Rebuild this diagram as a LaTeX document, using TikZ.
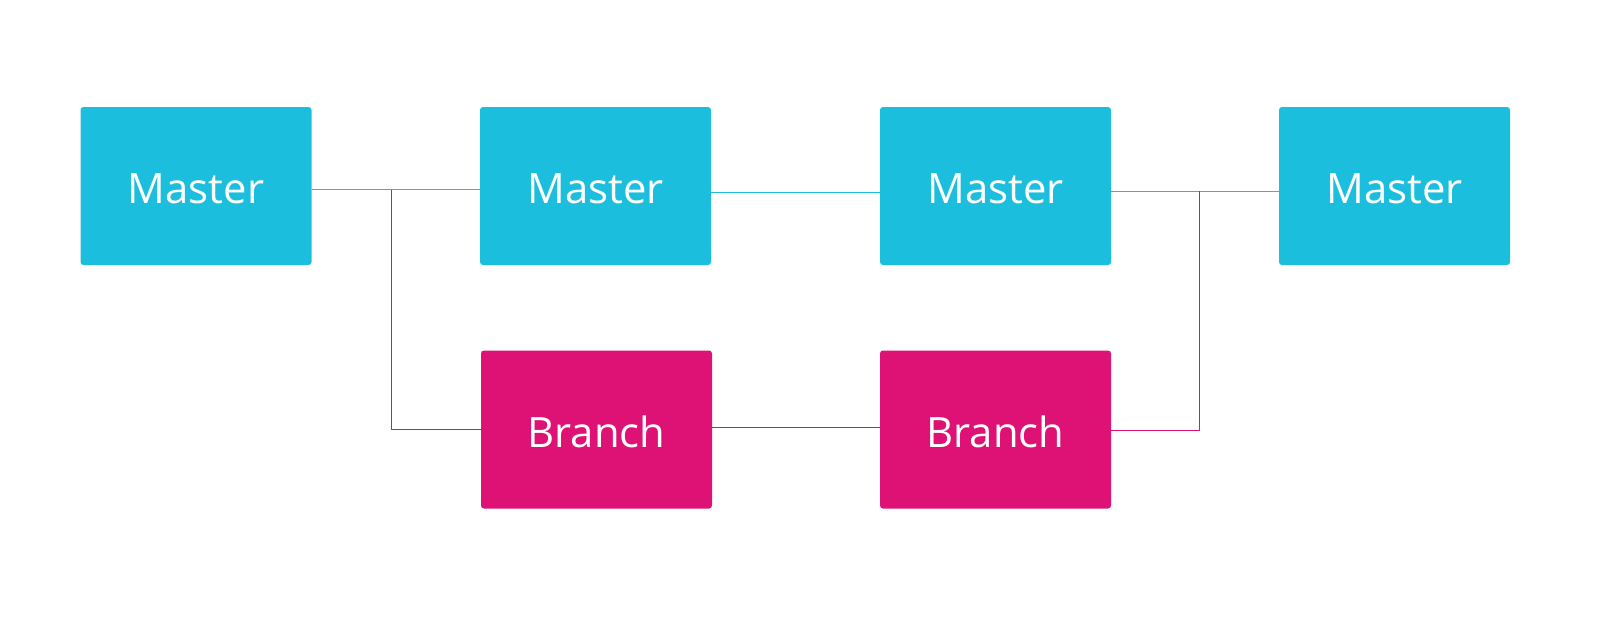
\documentclass[tikz,border=0pt]{standalone}
\usepackage{fontspec}
\setmainfont{Open Sans}
\definecolor{mcyan}{HTML}{1BBFDD}
\definecolor{mmag}{HTML}{DE1275}
\newcommand{\boxtext}[1]{\raisebox{-2.5pt}[\height][\depth]{#1}}
\begin{document}
\begin{tikzpicture}[x=1pt,y=-1pt,
  box/.style={rectangle, rounded corners=3pt, minimum width=231pt, minimum height=158pt, inner sep=0pt, text=white, font=\fontsize{41.8}{48}\selectfont},
  mbox/.style={box, fill=mcyan},
  bbox/.style={box, fill=mmag},
  cline/.style={draw=mcyan, line width=1pt},
  bline/.style={draw=mmag, line width=1pt}]
\useasboundingbox (0,0) rectangle (1600,627);
\node[mbox] (m1) at (196,186) {\boxtext{Master}};
\node[mbox] (m2) at (595.5,186) {\boxtext{Master}};
\node[mbox] (m3) at (995.5,186) {\boxtext{Master}};
\node[mbox] (m4) at (1394.5,186) {\boxtext{Master}};
\node[bbox] (b1) at (596.5,429.5) {\boxtext{Branch}};
\node[bbox] (b2) at (995.5,429.5) {\boxtext{Branch}};
\coordinate (j1) at (391.5,189.5);
\coordinate (j2) at (1199.5,191);
\draw[cline] ([yshift=-3.5pt]m1.east) -- ([yshift=-3.5pt]m2.west);
\draw[cline] ([yshift=-6pt]m2.east) -- ([yshift=-6pt]m3.west);
\draw[cline] ([yshift=-5pt]m3.east) -- ([yshift=-5pt]m4.west);
\draw[bline] (j1) |- (b1.west);
\draw[bline] ([yshift=2pt]b1.east) -- ([yshift=2pt]b2.west);
\draw[bline] (j2) |- ([yshift=-1pt]b2.east);
\end{tikzpicture}
\end{document}
